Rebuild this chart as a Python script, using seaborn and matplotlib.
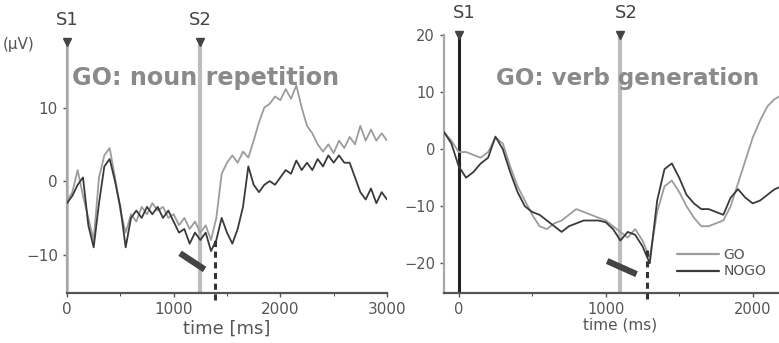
import numpy as np
import pandas as pd
import matplotlib
matplotlib.use("Agg")
import matplotlib.pyplot as plt
import seaborn as sns
from matplotlib.lines import Line2D

# ---------------- data ----------------
left_time = list(range(0, 3001, 50))
left_go = [-2.7, -1.5, 1.5, -2, -5, -8, 0.5, 3.5, 4.5, 0.5,
           -4, -7, -4.5, -5.5, -3.5, -4.5, -3, -4, -3.5, -5,
           -4.5, -6, -5, -6.5, -5.5, -7, -6, -8, -5, 1,
           2.5, 3.5, 2.5, 4, 3.2, 5.5, 8, 10, 10.5, 11.5,
           11, 12.5, 11.2, 13, 10, 7.5, 6.5, 5, 4, 5,
           3.8, 5.5, 4.5, 6, 5, 7.5, 5.5, 7, 5.5, 6.5, 5.5]
left_nogo = [-3, -2, -0.5, 0.5, -6, -9, -3, 2, 3, 0,
             -3.5, -9, -5, -4, -5, -3.5, -4.5, -3.5, -5, -4,
             -5.5, -7, -6.5, -8.5, -7, -8, -7, -9.5, -8, -5,
             -7, -8.5, -6.5, -3.5, 2, -0.5, -1.5, -0.5, 0, -0.5,
             0.5, 1.5, 1, 2.8, 1.5, 2.5, 1.5, 3, 2, 3.5,
             2.5, 3.5, 2.5, 2.5, 0.5, -1.5, -2.5, -1, -3, -1.5, -2.5]

right_time = list(range(-100, 2201, 50))
right_go = [3, 1.5, -0.5, -0.5, -1, -1.5, -0.5, 2, 1, -3,
            -6.5, -9, -11.5, -13.5, -14, -13, -12.5, -11.5, -10.5, -11,
            -11.5, -12, -12.5, -13.5, -14.5, -15.5, -14, -16, -19, -11,
            -6.5, -5.5, -7.5, -10, -12, -13.5, -13.5, -13, -12.5, -10,
            -6, -2, 2, 5, 7.5, 8.8, 9.5]
right_nogo = [3, 1, -3, -5, -4, -2.5, -1.5, 2.2, 0, -4,
              -7.5, -10, -11, -11.5, -12.5, -13.5, -14.5, -13.5, -13, -12.5,
              -12.5, -12.5, -12.8, -14, -16, -14.5, -15, -17, -20, -9,
              -3.5, -2.5, -5, -8, -9.5, -10.5, -10.5, -11, -11.5, -8.5,
              -7, -8.5, -9.5, -9, -8, -7, -6.5]

left_events = {"S1": 0, "S2": 1250}
left_rt = 1385
left_bar_x = [1060, 1290]
left_bar_y = [-9.8, -12.0]

right_events = {"S1": 0, "S2": 1100}
right_rt = 1280
right_bar_x = [1010, 1210]
right_bar_y = [-19.6, -21.9]

left_title = "GO: noun repetition"
right_title = "GO: verb generation"
conditions = ["GO", "NOGO"]

# ---------------- style ----------------
sns.set_style("ticks")
plt.rcParams["font.family"] = ["DejaVu Sans"]

GO_C = "#9c9c9c"
NOGO_C = "#3a3a3a"
TXT = "#555555"

fig = plt.figure(figsize=(7.79, 3.43), dpi=100)
axL = fig.add_axes([67/779, 50/343, 320/779, 251/343])
axR = fig.add_axes([444/779, 50/343, 352.8/779, 258/343])

dfL = pd.DataFrame({"t": left_time * 2,
                    "v": left_go + left_nogo,
                    "cond": ["GO"] * len(left_time) + ["NOGO"] * len(left_time)})
dfR = pd.DataFrame({"t": right_time * 2,
                    "v": right_go + right_nogo,
                    "cond": ["GO"] * len(right_time) + ["NOGO"] * len(right_time)})

pal = {"GO": GO_C, "NOGO": NOGO_C}

for ax, df, xlim, ylim, events, rt, bx, by, s1col, tfs in [
        (axL, dfL, (0, 3000), (-15.2, 18.9), left_events, left_rt, left_bar_x, left_bar_y, "#b8b8b8", 11),
        (axR, dfR, (-100, 2300), (-25.2, 20), right_events, right_rt, right_bar_x, right_bar_y, "#222222", 10.5)]:
    ax.set_xlim(*xlim)
    ax.set_ylim(*ylim)
    # event lines
    ax.axvline(events["S1"], color=s1col, lw=2.2 if ax is axR else 2.6, zorder=1)
    ax.axvline(events["S2"], color="#bdbdbd", lw=3, zorder=1)
    for k, xv in events.items():
        ax.plot([xv], [ylim[1]], marker="v", color="#444444", ms=6, clip_on=False, zorder=5)
        ax.text(xv + (40 if ax is axR else 0), ylim[1] + (ylim[1]-ylim[0]) * 0.05, k,
                ha="center", va="bottom", fontsize=13, color="#444444")
    sns.lineplot(data=df, x="t", y="v", hue="cond", palette=pal, ax=ax,
                 lw=1.3, legend=False, estimator=None, zorder=3)
    # reaction marker
    ax.plot([rt, rt], [ylim[0] - 1, by[0] + 2], ls=(0, (2, 1.5)), color="#333333", lw=2.2,
            clip_on=False, zorder=4)
    ax.plot(bx, by, color="#444444", lw=4.5, solid_capstyle="butt", zorder=4)
    for s in ["top", "right"]:
        ax.spines[s].set_visible(False)
    ax.spines["bottom"].set_color("#555555")
    ax.spines["bottom"].set_linewidth(1.6)
    ax.spines["left"].set_color("#a8a8a8")
    ax.spines["left"].set_linewidth(1.6)
    ax.set_xlabel("")
    ax.set_ylabel("")
    ax.tick_params(axis="both", colors="#555555", labelcolor=TXT, labelsize=tfs,
                   length=3, width=1)
    ax.set_xticks(range(0, int(xlim[1]) + 1, 1000))
    ax.set_xticks(range(500, int(xlim[1]) + 1, 1000), minor=True)
    ax.tick_params(axis="x", which="minor", length=2)

axL.set_yticks([-10, 0, 10])
axL.set_yticklabels(["\u221210", "0", "10"])
axR.set_yticks([-20, -10, 0, 10, 20])
axR.set_yticklabels(["\u221220", "\u221210", "0", "10", "20"])
axL.set_xlabel("time [ms]", fontsize=13, color=TXT, labelpad=2)
axR.set_xlabel("time (ms)", fontsize=11, color=TXT, labelpad=0)

axL.text(0.016, 0.857, left_title, transform=axL.transAxes, fontsize=17.2,
         fontweight="bold", color="#8a8a8a", va="center", ha="left", zorder=6)
axR.text(0.147, 0.833, right_title, transform=axR.transAxes, fontsize=16.6,
         fontweight="bold", color="#8a8a8a", va="center", ha="left", zorder=6)

fig.text(3/779, 1 - 45/343, "(\u00b5V)", fontsize=11, color=TXT, va="center", ha="left")

handles = [Line2D([], [], color=GO_C, lw=1.6), Line2D([], [], color=NOGO_C, lw=1.6)]
axR.legend(handles, conditions, loc="lower left", bbox_to_anchor=(0.645, 0.035),
           frameon=False, fontsize=10, handlelength=3.0, handletextpad=0.35,
           labelspacing=0.2, labelcolor=TXT, borderaxespad=0)

fig.savefig("out.png", dpi=100)
